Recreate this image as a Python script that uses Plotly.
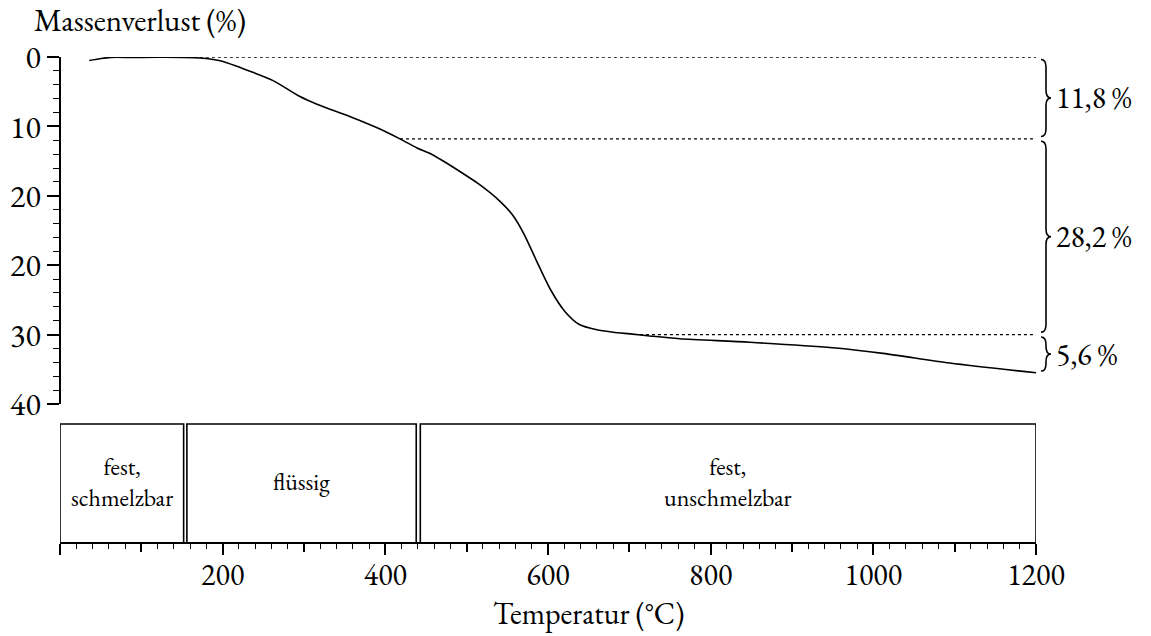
import plotly.graph_objects as go

# ---- data ----
temperature = [36, 49, 62, 90, 123, 172, 197, 237, 262, 295, 316, 357, 390, 418, 439, 455,
               467, 483, 516, 541, 556, 570, 586, 603, 621, 638, 660, 680, 701, 725, 762, 848,
               950, 1012, 1094, 1200]
mass_loss = [0.5, 0.25, 0.06, 0.06, 0.04, 0.14, 0.53, 2.2, 3.4, 5.7, 6.8, 8.6, 10.2, 11.8, 13.1,
             13.9, 14.7, 15.85, 18.4, 20.8, 22.7, 25.4, 29.4, 33.5, 36.7, 38.5, 39.3, 39.65,
             39.9, 40.2, 40.6, 41.1, 41.9, 42.7, 44.1, 45.5]

y_tickvals = [0, 10, 20, 30, 40, 50]
y_ticktext = ["0", "10", "20", "20", "30", "40"]
x_tickvals = [0, 200, 400, 600, 800, 1000, 1200]
x_ticktext = ["", "200", "400", "600", "800", "1000", "1200"]
x_midticks = [100, 300, 500, 700, 900, 1100]

step_levels = [0, 11.8, 40, 45.6]
step_labels = ["11,8 %", "28,2 %", "5,6 %"]
dotted_start = [172, 418, 713]

phase_labels = ["fest,<br>schmelzbar", "flüssig", "fest,<br>unschmelzbar"]
phase_start = [0, 156, 443]
phase_end = [152, 438, 1200]

FONT = "EB Garamond, Liberation Serif, serif"
W, H = 1151, 636
L, R, T, B = 60, 115, 57, 93
plot_h = H - T - B
y_dom_bottom = (543 - 404) / plot_h
box_top = (543 - 424) / plot_h

fig = go.Figure()
fig.add_trace(go.Scatter(x=temperature, y=mass_loss, mode="lines",
                         line=dict(color="black", width=1.6, shape="spline", smoothing=0.8),
                         showlegend=False, hoverinfo="skip"))
fig.add_trace(go.Scatter(x=[None], y=[None], xaxis="x2", yaxis="y", showlegend=False))

shapes = []
annotations = []

# dotted reference lines
for lvl, xs in zip(step_levels[:3], dotted_start):
    shapes.append(dict(type="line", xref="x", yref="y", x0=xs, x1=1200, y0=lvl, y1=lvl,
                       line=dict(color="black", width=1.4, dash="dot")))

# braces
def px_to_paper(px):
    return (px - L) / (W - L - R)

xe, xb, xt = px_to_paper(1041), px_to_paper(1046), px_to_paper(1051)
inset = 0.35
r = 1.1
for i in range(3):
    y0 = step_levels[i] + inset
    y1 = step_levels[i + 1] - inset
    ym = (y0 + y1) / 2
    rr = min(r, (y1 - y0) / 4)
    path = (f"M {xe},{y0} Q {xb},{y0} {xb},{y0 + rr} L {xb},{ym - rr} "
            f"Q {xb},{ym} {xt},{ym} Q {xb},{ym} {xb},{ym + rr} L {xb},{y1 - rr} "
            f"Q {xb},{y1} {xe},{y1}")
    shapes.append(dict(type="path", xref="paper", yref="y", path=path,
                       line=dict(color="black", width=1.6)))
    annotations.append(dict(x=px_to_paper(1054), y=(step_levels[i] + step_levels[i + 1]) / 2,
                            xref="paper", yref="y", text=step_labels[i], showarrow=False,
                            xanchor="left", yanchor="middle",
                            font=dict(family=FONT, size=30, color="black")))

# phase boxes
for lab, s, e in zip(phase_labels, phase_start, phase_end):
    shapes.append(dict(type="rect", xref="x", yref="paper", x0=s, x1=e, y0=0, y1=box_top,
                       line=dict(color="black", width=1.6), fillcolor="rgba(0,0,0,0)"))
    annotations.append(dict(x=(s + e) / 2, y=box_top / 2, xref="x", yref="paper",
                            text=lab, showarrow=False, xanchor="center", yanchor="middle",
                            yshift=2, font=dict(family=FONT, size=24, color="black")))

# titles
annotations.append(dict(x=px_to_paper(32), y=(H - B - 20) / plot_h, xref="paper", yref="paper",
                        text="Massenverlust (%)", showarrow=False, xanchor="left",
                        yanchor="middle", font=dict(family=FONT, size=31, color="black")))
annotations.append(dict(x=px_to_paper(588), y=-(613 - (H - B)) / plot_h, xref="paper",
                        yref="paper", text="Temperatur (°C)", showarrow=False,
                        xanchor="center", yanchor="middle",
                        font=dict(family=FONT, size=30, color="black")))

fig.update_layout(
    width=W, height=H, margin=dict(l=L, r=R, t=T, b=B, autoexpand=False),
    plot_bgcolor="white", paper_bgcolor="white",
    font=dict(family=FONT, size=30, color="black"),
    shapes=shapes, annotations=annotations, showlegend=False,
    xaxis=dict(range=[0, 1200], anchor="free", position=0, showgrid=False, zeroline=False,
               automargin=False, showline=True, linecolor="black", linewidth=1.6,
               tickmode="array", tickvals=x_tickvals, ticktext=x_ticktext,
               ticks="outside", ticklen=11, tickwidth=1.6, tickcolor="black",
               ticklabelstandoff=-6,
               tickfont=dict(family=FONT, size=30, color="black"),
               minor=dict(dtick=20, tick0=0, ticks="outside", ticklen=5, tickwidth=1.4,
                          tickcolor="black", showgrid=False)),
    xaxis2=dict(range=[0, 1200], overlaying="x", anchor="free", position=0, showgrid=False,
                automargin=False, zeroline=False, showline=False, tickmode="array",
                tickvals=x_midticks, ticks="outside", ticklen=8, tickwidth=1.6,
                tickcolor="black", showticklabels=False),
    yaxis=dict(range=[50, 0], domain=[y_dom_bottom, 1], anchor="free", position=0,
               automargin=False, showgrid=False, zeroline=False, showline=True,
               linecolor="black", linewidth=1.6, tickmode="array", tickvals=y_tickvals,
               ticktext=y_ticktext, ticks="outside", ticklen=12, tickwidth=1.6,
               tickcolor="black", tickfont=dict(family=FONT, size=32, color="black"),
               minor=dict(dtick=2, tick0=0, ticks="outside", ticklen=6, tickwidth=1.4,
                          tickcolor="black", showgrid=False)),
)

fig.write_html("out.html")
